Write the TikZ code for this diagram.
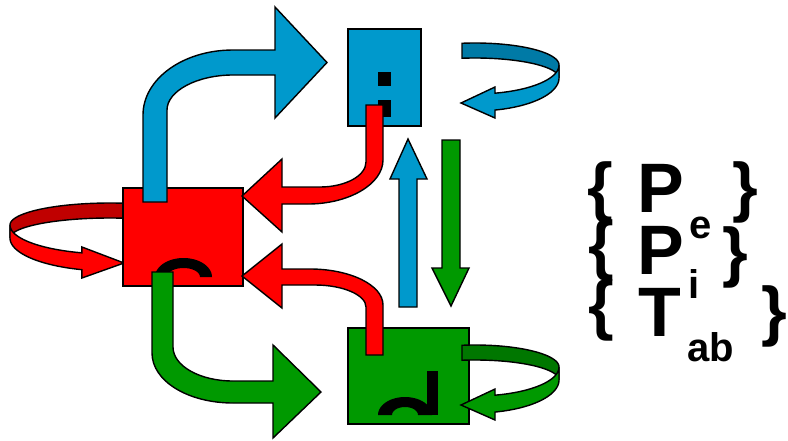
\documentclass[tikz,border=0pt]{standalone}
\usepackage{fontspec}
\setmainfont{Liberation Sans}
\definecolor{cblue}{HTML}{0099CC}
\definecolor{cbluedk}{HTML}{007AA6}
\definecolor{cred}{HTML}{FF0000}
\definecolor{creddk}{HTML}{C00000}
\definecolor{cgreen}{HTML}{009900}
\definecolor{cgreendk}{HTML}{007700}
\tikzset{
  outl/.style={draw=black, line width=1.4pt, line join=miter},
  lbl/.style={inner sep=0pt, font=\fontsize{70}{84}\selectfont\bfseries},
  sml/.style={inner sep=0pt, font=\fontsize{40}{48}\selectfont\bfseries},
  brc/.style={inner sep=0pt, font=\fontsize{66}{80}\selectfont\bfseries},
}
% ribbon loop: #1 x radius, #2 start angle, #3 front end angle, #4 dark, #5 light
\newcommand\ribbonloop[5]{%
  \filldraw[outl, fill=#4, samples=40] plot[domain=#2:0] ({#1*cos(\x)},{-22*sin(\x)})
     -- plot[domain=0:#2] ({#1*cos(\x)},{13-20*sin(\x)}) -- cycle;
  \filldraw[outl, fill=#5, samples=40] plot[domain=0:#3] ({#1*cos(\x)},{-29*sin(\x)})
     -- ({#1*cos(#3)},22) -- ({#1*cos(#2)-1},38) -- ({#1*cos(#3)},53)
     -- plot[domain=#3:0] ({#1*cos(\x)},{13-33*sin(\x)}) -- cycle;
}
\begin{document}
\begin{tikzpicture}[x=1pt,y=-1pt]
\useasboundingbox (0,0) rectangle (788,440);

% red self loop (behind red box)
\begin{scope}[shift={(110,225)}, xscale=-1]
  \ribbonloop{100}{97.5}{-73.7}{creddk}{cred}
\end{scope}
% blue self loop
\begin{scope}[shift={(475,65)}]
  \ribbonloop{84}{98.9}{-76.2}{cbluedk}{cblue}
\end{scope}

% boxes
\filldraw[outl, fill=cblue] (348,29) rectangle (421,126);
\filldraw[outl, fill=cred] (123,188) rectangle (243,286);
\filldraw[outl, fill=cgreen] (348,328) rectangle (469,424);

% green self loop (over green box)
\begin{scope}[shift={(475,367)}]
  \ribbonloop{84}{98.9}{-76.2}{cgreendk}{cgreen}
\end{scope}

% black glyphs
\fill[black] (378,72) rectangle (391,86);
\fill[black] (378,100) rectangle (391,117);
\fill[black, samples=30] plot[domain=0:180] ({183.5+28.5*cos(\x)},{277-19*sin(\x)})
   -- plot[domain=180:0] ({183.5+16.5*cos(\x)},{277-9*sin(\x)}) -- cycle;
\fill[black, samples=30] plot[domain=0:180] ({405+27*cos(\x)},{415-18*sin(\x)})
   -- plot[domain=180:0] ({405+13*cos(\x)},{415-8*sin(\x)}) -- cycle;
\fill[black] (427,371) rectangle (438,415);

% big blue arrow: red box -> blue box
\filldraw[outl, fill=cblue] (143,202) -- (143,115) .. controls (143,79) and (183,50) .. (233,50)
  -- (275,50) -- (275,7) -- (327,62.5) -- (275,118) -- (275,75) -- (233,75)
  .. controls (197,75) and (167,91) .. (167,110) -- (167,202) -- cycle;

% big green arrow: red box -> green box
\filldraw[outl, fill=cgreen] (152,272) -- (152,353) .. controls (152,381) and (188,403) .. (233,403)
  -- (273,403) -- (273,438) -- (321,392) -- (273,345) -- (273,381) -- (233,381)
  .. controls (200,381) and (173,366) .. (173,347) -- (173,272) -- cycle;

% red arrow: blue box -> red box
\filldraw[outl, fill=cred] (366,105) -- (366,162) .. controls (366,176) and (345,187) .. (320,187)
  -- (282,187) -- (282,159) -- (242,196) -- (282,232) -- (282,204) -- (308,204)
  .. controls (349,204) and (383,184) .. (383,160) -- (383,105) -- cycle;

% red arrow: green box -> red box
\filldraw[outl, fill=cred] (366,355) -- (366,307) .. controls (366,295) and (343,285) .. (315,285)
  -- (282,285) -- (282,308) -- (242,276) -- (282,244) -- (282,269) -- (310,269)
  .. controls (350,269) and (383,285) .. (383,305) -- (383,355) -- cycle;

% vertical blue arrow (up)
\filldraw[outl, fill=cblue] (399,307) -- (399,179) -- (390,179) -- (408,139) -- (427,179)
  -- (417,179) -- (417,307) -- cycle;
% vertical green arrow (down)
\filldraw[outl, fill=cgreen] (442,140) -- (442,268) -- (432,268) -- (451,306) -- (469,268)
  -- (460,268) -- (460,140) -- cycle;

% text
\node[brc] (bl1) at (600.5,192) {\{};
\node[brc] (br1) at (745.5,192) {\}};
\node[brc] (bl2) at (601,250) {\{};
\node[brc] (br2) at (735,257) {\}};
\node[brc] (bl3) at (601,310.5) {\{};
\node[brc] (br3) at (774.5,316) {\}};
\node[lbl] (p1) at (661,188) {P};
\node[lbl] (p2) at (661,250) {P};
\node[sml] (sup) at (700.5,227.5) {e};
\node[lbl] (t3) at (660,312) {T};
\node[sml] (supi) at (694.5,284) {i};
\node[sml] (sub) at (711,347) {ab};
\end{tikzpicture}
\end{document}
